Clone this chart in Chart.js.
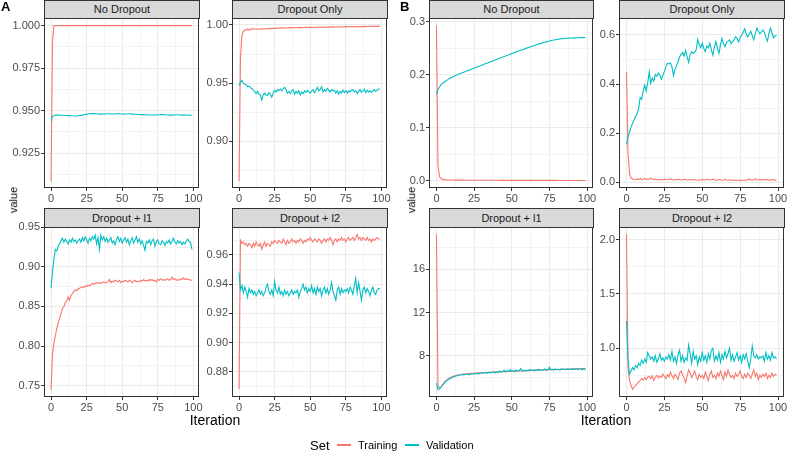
<!DOCTYPE html>
<html>
<head>
<meta charset="utf-8">
<script src="https://cdn.jsdelivr.net/npm/chart.js@4.4.1/dist/chart.umd.min.js"></script>
<style>
  body { margin: 0; background: #fff; font-family: "Liberation Sans", Arial, sans-serif; }
  #wrap { position: relative; width: 787px; height: 453px; overflow: hidden; }
  #wrap canvas, .strip, .txt, .key { position: absolute; }
  .strip { background: #d9d9d9; border: 1px solid #333; box-sizing: border-box; font-size: 11px; color: #1a1a1a; text-align: center; }
  .txt { white-space: nowrap; color: #000; }
</style>
</head>
<body>
<div id="wrap"></div>
<script>
// iterations (x values)
const iterations = [
  0,1,2,3,4,5,6,7,8,9, 10,11,12,13,14,15,16,17,18,19, 20,21,22,23,24,25,26,27,28,29,
  30,31,32,33,34,35,36,37,38,39, 40,41,42,43,44,45,46,47,48,49, 50,51,52,53,54,55,56,57,58,59,
  60,61,62,63,64,65,66,67,68,69, 70,71,72,73,74,75,76,77,78,79, 80,81,82,83,84,85,86,87,88,89,
  90,91,92,93,94,95,96,97,98,99
];

// A - No Dropout
const aNoDropTraining = [
  0.9083, 0.99, 1, 1, 1, 1, 1, 1, 1, 1,
  1, 1, 1, 1, 1, 1, 1, 1, 1, 1,
  1, 1, 1, 1, 1, 1, 1, 1, 1, 1,
  1, 1, 1, 1, 1, 1, 1, 1, 1, 1,
  1, 1, 1, 1, 1, 1, 1, 1, 1, 1,
  1, 1, 1, 1, 1, 1, 1, 1, 1, 1,
  1, 1, 1, 1, 1, 1, 1, 1, 1, 1,
  1, 1, 1, 1, 1, 1, 1, 1, 1, 1,
  1, 1, 1, 1, 1, 1, 1, 1, 1, 1,
  1, 1, 1, 1, 1, 1, 1, 1, 1, 1
];
const aNoDropValidation = [
  0.944, 0.9466, 0.947, 0.9472, 0.9473, 0.9473, 0.9473, 0.9472, 0.9472, 0.9472,
  0.9471, 0.9471, 0.947, 0.947, 0.9469, 0.9469, 0.9468, 0.9468, 0.9468, 0.9469,
  0.947, 0.9471, 0.9473, 0.9475, 0.9477, 0.9479, 0.948, 0.9481, 0.9482, 0.9482,
  0.9483, 0.9482, 0.9481, 0.948, 0.9479, 0.9479, 0.9479, 0.948, 0.948, 0.9481,
  0.9481, 0.9481, 0.948, 0.948, 0.948, 0.9481, 0.9481, 0.9482, 0.9481, 0.948,
  0.948, 0.9479, 0.948, 0.948, 0.9481, 0.9481, 0.948, 0.9479, 0.9479, 0.9478,
  0.9478, 0.9477, 0.9477, 0.9476, 0.9476, 0.9476, 0.9475, 0.9475, 0.9475, 0.9474,
  0.9474, 0.9474, 0.9474, 0.9474, 0.9474, 0.9475, 0.9475, 0.9476, 0.9476, 0.9475,
  0.9475, 0.9474, 0.9474, 0.9473, 0.9473, 0.9473, 0.9474, 0.9474, 0.9475, 0.9475,
  0.9474, 0.9474, 0.9473, 0.9473, 0.9473, 0.9474, 0.9474, 0.9473, 0.9472, 0.9472
];

// A - Dropout Only
const aDropOnlyTraining = [
  0.866, 0.972, 0.991, 0.9945, 0.9955, 0.996, 0.9962, 0.9958, 0.9964, 0.9961,
  0.997, 0.9966, 0.9963, 0.9967, 0.9964, 0.9968, 0.9965, 0.9969, 0.9966, 0.997,
  0.9968, 0.9971, 0.9969, 0.9972, 0.997, 0.9973, 0.9971, 0.9974, 0.9972, 0.9975,
  0.9973, 0.9975, 0.9974, 0.9976, 0.9974, 0.9977, 0.9975, 0.9977, 0.9976, 0.9978,
  0.9976, 0.9978, 0.9977, 0.9979, 0.9977, 0.9979, 0.9978, 0.998, 0.9978, 0.998,
  0.9979, 0.9981, 0.9979, 0.9981, 0.998, 0.9982, 0.998, 0.9982, 0.9981, 0.9983,
  0.9981, 0.9983, 0.9982, 0.9983, 0.9982, 0.9984, 0.9982, 0.9984, 0.9983, 0.9985,
  0.9983, 0.9985, 0.9984, 0.9985, 0.9984, 0.9986, 0.9984, 0.9986, 0.9985, 0.9986,
  0.9985, 0.9987, 0.9985, 0.9987, 0.9986, 0.9987, 0.9986, 0.9988, 0.9986, 0.9988,
  0.9987, 0.9988, 0.9987, 0.9989, 0.9987, 0.9989, 0.9988, 0.9989, 0.9988, 0.9992
];
const aDropOnlyValidation = [
  0.948, 0.951, 0.9525, 0.95, 0.949, 0.9485, 0.947, 0.9475, 0.946, 0.9455,
  0.944, 0.943, 0.941, 0.943, 0.9405, 0.94, 0.9355, 0.94, 0.9415, 0.94,
  0.9395, 0.942, 0.9405, 0.938, 0.9415, 0.944, 0.9425, 0.9445, 0.9435, 0.945,
  0.9435, 0.945, 0.9465, 0.9445, 0.9415, 0.943, 0.941, 0.9435, 0.9445, 0.9405,
  0.943, 0.9415, 0.9435, 0.94, 0.9425, 0.941, 0.9435, 0.942, 0.944, 0.9425,
  0.9415, 0.9435, 0.9445, 0.942, 0.944, 0.9465, 0.9435, 0.9445, 0.947, 0.9425,
  0.9445, 0.943, 0.9455, 0.944, 0.9425, 0.9445, 0.9435, 0.944, 0.9415, 0.9435,
  0.9405, 0.943, 0.9415, 0.944, 0.942, 0.9435, 0.9415, 0.9435, 0.9425, 0.944,
  0.9445, 0.9425, 0.9435, 0.941, 0.943, 0.9445, 0.942, 0.9435, 0.945, 0.942,
  0.944, 0.9425, 0.9435, 0.942, 0.9435, 0.9445, 0.943, 0.944, 0.945, 0.945
];

// A - Dropout + l1
const aL1Training = [
  0.745, 0.790, 0.803, 0.813, 0.822, 0.829, 0.835, 0.841, 0.847, 0.850,
  0.855, 0.857, 0.862, 0.858, 0.864, 0.866, 0.869, 0.871, 0.870, 0.872,
  0.873, 0.874, 0.875, 0.874, 0.876, 0.875, 0.877, 0.876, 0.877, 0.879,
  0.878, 0.879, 0.880, 0.879, 0.880, 0.879, 0.880, 0.881, 0.880, 0.880,
  0.881, 0.884, 0.880, 0.882, 0.881, 0.883, 0.882, 0.881, 0.883, 0.880,
  0.882, 0.881, 0.883, 0.882, 0.881, 0.883, 0.882, 0.880, 0.882, 0.883,
  0.881, 0.882, 0.881, 0.883, 0.882, 0.884, 0.882, 0.883, 0.882, 0.884,
  0.883, 0.884, 0.882, 0.883, 0.881, 0.884, 0.883, 0.885, 0.883, 0.884,
  0.883, 0.884, 0.885, 0.883, 0.884, 0.887, 0.884, 0.885, 0.883, 0.884,
  0.883, 0.885, 0.884, 0.886, 0.884, 0.885, 0.884, 0.884, 0.883, 0.883
];
const aL1Validation = [
  0.873, 0.893, 0.910, 0.922, 0.920, 0.926, 0.929, 0.933, 0.936, 0.931,
  0.935, 0.932, 0.929, 0.934, 0.931, 0.936, 0.932, 0.934, 0.930, 0.933,
  0.935, 0.931, 0.937, 0.933, 0.938, 0.934, 0.930, 0.936, 0.933, 0.938,
  0.935, 0.940, 0.929, 0.937, 0.922, 0.940, 0.934, 0.938, 0.932, 0.936,
  0.931, 0.934, 0.937, 0.930, 0.933, 0.928, 0.935, 0.938, 0.932, 0.936,
  0.930, 0.934, 0.937, 0.931, 0.935, 0.928, 0.933, 0.937, 0.930, 0.934,
  0.938, 0.931, 0.935, 0.929, 0.933, 0.927, 0.921, 0.932, 0.930, 0.934,
  0.928, 0.933, 0.935, 0.926, 0.932, 0.934, 0.929, 0.928, 0.933, 0.931,
  0.927, 0.932, 0.930, 0.934, 0.929, 0.932, 0.936, 0.931, 0.929, 0.933,
  0.930, 0.932, 0.928, 0.931, 0.929, 0.933, 0.935, 0.932, 0.931, 0.922
];

// A - Dropout + l2
const aL2Training = [
  0.868, 0.970, 0.968, 0.969, 0.967, 0.968, 0.966, 0.968, 0.967, 0.965,
  0.968, 0.966, 0.969, 0.967, 0.966, 0.968, 0.964, 0.967, 0.969, 0.966,
  0.968, 0.967, 0.966, 0.969, 0.968, 0.970, 0.969, 0.968, 0.970, 0.969,
  0.968, 0.971, 0.969, 0.967, 0.970, 0.968, 0.969, 0.971, 0.969, 0.970,
  0.968, 0.970, 0.969, 0.971, 0.970, 0.968, 0.970, 0.969, 0.971, 0.970,
  0.972, 0.970, 0.969, 0.971, 0.970, 0.969, 0.971, 0.970, 0.968, 0.970,
  0.971, 0.969, 0.971, 0.970, 0.972, 0.970, 0.967, 0.970, 0.971, 0.969,
  0.971, 0.970, 0.972, 0.970, 0.971, 0.969, 0.971, 0.972, 0.970, 0.971,
  0.972, 0.970, 0.972, 0.974, 0.971, 0.972, 0.970, 0.972, 0.971, 0.970,
  0.972, 0.970, 0.971, 0.969, 0.971, 0.970, 0.971, 0.972, 0.971, 0.971
];
const aL2Validation = [
  0.948, 0.936, 0.939, 0.934, 0.938, 0.935, 0.931, 0.937, 0.934, 0.936,
  0.933, 0.935, 0.932, 0.934, 0.936, 0.933, 0.935, 0.932, 0.934, 0.938,
  0.940, 0.935, 0.933, 0.936, 0.932, 0.942, 0.936, 0.934, 0.938, 0.933,
  0.935, 0.932, 0.936, 0.933, 0.935, 0.932, 0.934, 0.936, 0.933, 0.935,
  0.934, 0.936, 0.931, 0.935, 0.937, 0.940, 0.936, 0.938, 0.934, 0.937,
  0.935, 0.939, 0.934, 0.937, 0.933, 0.938, 0.935, 0.937, 0.932, 0.936,
  0.938, 0.934, 0.937, 0.933, 0.936, 0.941, 0.935, 0.932, 0.929, 0.936,
  0.938, 0.933, 0.937, 0.934, 0.936, 0.935, 0.937, 0.934, 0.938, 0.936,
  0.933, 0.939, 0.944, 0.934, 0.941, 0.935, 0.929, 0.936, 0.938, 0.934,
  0.937, 0.935, 0.932, 0.936, 0.938, 0.934, 0.933, 0.936, 0.937, 0.937
];

// B - No Dropout
const bNoDropTraining = [
  0.293, 0.03, 0.008, 0.004, 0.0025, 0.002, 0.0017, 0.0015, 0.0014, 0.0013,
  0.0012, 0.0012, 0.0011, 0.0011, 0.0011, 0.001, 0.001, 0.001, 0.001, 0.0009,
  0.0009, 0.0009, 0.0009, 0.0009, 0.0009, 0.0009, 0.0009, 0.0009, 0.0009, 0.0009,
  0.0008, 0.0008, 0.0008, 0.0008, 0.0008, 0.0008, 0.0008, 0.0008, 0.0008, 0.0008,
  0.0008, 0.0008, 0.0007, 0.0007, 0.0007, 0.0007, 0.0007, 0.0007, 0.0007, 0.0007,
  0.0007, 0.0007, 0.0007, 0.0007, 0.0007, 0.0007, 0.0007, 0.0007, 0.0007, 0.0007,
  0.0006, 0.0006, 0.0006, 0.0006, 0.0006, 0.0006, 0.0006, 0.0006, 0.0006, 0.0006,
  0.0006, 0.0006, 0.0006, 0.0006, 0.0006, 0.0006, 0.0006, 0.0006, 0.0006, 0.0006,
  0.0005, 0.0005, 0.0005, 0.0005, 0.0005, 0.0005, 0.0005, 0.0005, 0.0005, 0.0005,
  0.0005, 0.0005, 0.0005, 0.0005, 0.0005, 0.0005, 0.0005, 0.0004, 0.0004, 0.0004
];
const bNoDropValidation = [
  0.163, 0.172, 0.177, 0.181, 0.184, 0.186, 0.188, 0.190, 0.192, 0.1935,
  0.195, 0.1965, 0.198, 0.1992, 0.2004, 0.2016, 0.2028, 0.2039, 0.205, 0.2061,
  0.2072, 0.2083, 0.2094, 0.2105, 0.2116, 0.2127, 0.2138, 0.2149, 0.216, 0.2171,
  0.2182, 0.2193, 0.2204, 0.2215, 0.2226, 0.2237, 0.2248, 0.2259, 0.227, 0.2281,
  0.2292, 0.2303, 0.2314, 0.2325, 0.2336, 0.2347, 0.2358, 0.2369, 0.238, 0.2391,
  0.2402, 0.2413, 0.2424, 0.2435, 0.2446, 0.2456, 0.2466, 0.2476, 0.2486, 0.2496,
  0.2506, 0.2516, 0.2526, 0.2536, 0.2546, 0.2555, 0.2564, 0.2573, 0.2582, 0.2591,
  0.26, 0.2608, 0.2616, 0.2624, 0.2632, 0.2639, 0.2646, 0.2653, 0.2659, 0.2665,
  0.267, 0.2675, 0.2679, 0.2683, 0.2686, 0.2689, 0.2691, 0.2693, 0.2695, 0.2697,
  0.2698, 0.2699, 0.27, 0.2701, 0.2702, 0.2703, 0.2704, 0.2705, 0.2706, 0.2707
];

// B - Dropout Only
const bDropOnlyTraining = [
  0.45, 0.12, 0.035, 0.018, 0.014, 0.012, 0.011, 0.014, 0.012, 0.015,
  0.011, 0.013, 0.016, 0.012, 0.014, 0.013, 0.017, 0.014, 0.012, 0.013,
  0.011, 0.012, 0.01, 0.012, 0.011, 0.013, 0.012, 0.011, 0.013, 0.015,
  0.012, 0.01, 0.012, 0.011, 0.013, 0.012, 0.01, 0.011, 0.013, 0.012,
  0.009, 0.011, 0.012, 0.01, 0.011, 0.012, 0.01, 0.009, 0.011, 0.01,
  0.012, 0.009, 0.011, 0.013, 0.012, 0.01, 0.011, 0.013, 0.011, 0.009,
  0.01, 0.012, 0.011, 0.009, 0.01, 0.012, 0.01, 0.009, 0.011, 0.01,
  0.008, 0.009, 0.01, 0.009, 0.008, 0.009, 0.008, 0.009, 0.01, 0.009,
  0.011, 0.013, 0.011, 0.009, 0.012, 0.014, 0.011, 0.01, 0.012, 0.009,
  0.011, 0.012, 0.01, 0.012, 0.009, 0.011, 0.01, 0.012, 0.009, 0.007
];
const bDropOnlyValidation = [
  0.155, 0.185, 0.205, 0.226, 0.24, 0.255, 0.268, 0.28, 0.30, 0.345,
  0.338, 0.37, 0.396, 0.372, 0.405, 0.45, 0.403, 0.425, 0.412, 0.44,
  0.432, 0.445, 0.438, 0.42, 0.435, 0.452, 0.47, 0.485, 0.482, 0.486,
  0.47, 0.435, 0.46, 0.475, 0.49, 0.51, 0.52, 0.528, 0.515, 0.538,
  0.512, 0.488, 0.52, 0.532, 0.525, 0.53, 0.54, 0.582, 0.56, 0.548,
  0.566, 0.545, 0.532, 0.555, 0.548, 0.566, 0.54, 0.518, 0.55, 0.573,
  0.545, 0.525, 0.56, 0.586, 0.565, 0.552, 0.57, 0.575, 0.58, 0.565,
  0.573, 0.58, 0.593, 0.585, 0.572, 0.588, 0.6, 0.61, 0.625, 0.605,
  0.593, 0.605, 0.615, 0.598, 0.58, 0.605, 0.628, 0.615, 0.605, 0.612,
  0.62, 0.61, 0.59, 0.575, 0.605, 0.628, 0.61, 0.588, 0.595, 0.6
];

// B - Dropout + l1
const bL1Training = [
  19.2, 5.3, 5.05, 5.15, 5.35, 5.55, 5.7, 5.82, 5.92, 6.0,
  6.06, 6.12, 6.16, 6.2, 6.24, 6.27, 6.29, 6.31, 6.33, 6.34,
  6.36, 6.35, 6.38, 6.4, 6.39, 6.42, 6.41, 6.44, 6.43, 6.46,
  6.45, 6.47, 6.46, 6.49, 6.48, 6.5, 6.49, 6.52, 6.5, 6.53,
  6.52, 6.55, 6.53, 6.56, 6.55, 6.58, 6.56, 6.59, 6.57, 6.6,
  6.58, 6.61, 6.6, 6.62, 6.6, 6.63, 6.62, 6.65, 6.63, 6.66,
  6.64, 6.67, 6.65, 6.68, 6.67, 6.69, 6.68, 6.7, 6.69, 6.71,
  6.7, 6.72, 6.71, 6.73, 6.72, 6.74, 6.73, 6.75, 6.74, 6.76,
  6.75, 6.77, 6.76, 6.78, 6.77, 6.79, 6.78, 6.8, 6.79, 6.81,
  6.8, 6.82, 6.81, 6.83, 6.82, 6.84, 6.83, 6.85, 6.84, 6.86
];
const bL1Validation = [
  5.5, 4.9, 4.95, 5.1, 5.3, 5.45, 5.6, 5.72, 5.84, 5.92,
  6.0, 6.05, 6.12, 6.15, 6.2, 6.22, 6.26, 6.24, 6.3, 6.27,
  6.33, 6.3, 6.28, 6.36, 6.32, 6.38, 6.35, 6.42, 6.33, 6.45,
  6.39, 6.47, 6.41, 6.5, 6.38, 6.52, 6.44, 6.49, 6.55, 6.42,
  6.56, 6.48, 6.62, 6.5, 6.58, 6.71, 6.52, 6.66, 6.55, 6.74,
  6.58, 6.63, 6.55, 6.7, 6.6, 6.67, 6.84, 6.62, 6.7, 6.58,
  6.69, 6.63, 6.75, 6.66, 6.72, 6.61, 6.74, 6.68, 6.78, 6.65,
  6.73, 6.7, 6.8, 6.67, 6.76, 6.95, 6.72, 6.78, 6.69, 6.8,
  6.72, 6.77, 6.7, 6.82, 6.74, 6.79, 6.71, 6.83, 6.75, 6.8,
  6.73, 6.85, 6.76, 6.81, 6.74, 6.86, 6.78, 6.72, 6.84, 6.7
];

// B - Dropout + l2
const bL2Training = [
  2.05, 0.82, 0.7, 0.66, 0.62, 0.64, 0.655, 0.67, 0.69, 0.7,
  0.72, 0.705, 0.73, 0.71, 0.735, 0.74, 0.72, 0.745, 0.7, 0.735,
  0.75, 0.725, 0.745, 0.73, 0.76, 0.74, 0.72, 0.755, 0.735, 0.78,
  0.745, 0.72, 0.76, 0.74, 0.71, 0.77, 0.79, 0.75, 0.73, 0.68,
  0.74, 0.8, 0.77, 0.73, 0.76, 0.79, 0.74, 0.71, 0.76, 0.73,
  0.75, 0.72, 0.78, 0.74, 0.7, 0.76, 0.79, 0.73, 0.75, 0.72,
  0.77, 0.74, 0.79, 0.75, 0.71, 0.78, 0.74, 0.8, 0.76, 0.73,
  0.75, 0.72, 0.77, 0.74, 0.76, 0.79, 0.74, 0.72, 0.76, 0.73,
  0.77, 0.75, 0.72, 0.76, 0.8, 0.74, 0.77, 0.71, 0.75, 0.73,
  0.76, 0.74, 0.77, 0.72, 0.75, 0.73, 0.77, 0.74, 0.76, 0.75
];
const bL2Validation = [
  1.25, 0.9, 0.76, 0.79, 0.82, 0.8, 0.84, 0.82, 0.86, 0.84,
  0.89, 0.86, 0.9, 0.87, 0.96, 0.93, 0.9, 0.92, 0.88, 0.93,
  0.87, 0.9, 0.95, 0.89, 0.91, 0.88, 0.92, 0.9, 0.94, 0.89,
  0.97, 0.88, 0.92, 0.86, 0.94, 0.98, 0.88, 0.93, 0.87, 0.91,
  0.89, 1.03, 0.95, 0.86, 0.97, 0.9, 0.93, 0.85, 0.92, 0.88,
  0.96, 0.89, 0.93, 0.87, 0.95, 0.9, 0.98, 1.0, 0.88, 0.93,
  0.89, 0.96, 0.87, 0.94, 0.9, 0.97, 0.91, 0.95, 1.0, 0.89,
  0.94, 0.88, 0.92, 0.96, 0.89, 0.93, 0.87, 0.94, 0.9, 0.95,
  0.88, 0.82, 0.9, 1.02, 0.93, 0.91, 0.94, 0.9, 0.92, 0.91,
  0.93, 0.88, 0.96, 0.9, 0.93, 0.89, 0.96, 0.91, 0.92, 0.9
];

// axis ticks and labels
const xTicks = [0, 25, 50, 75, 100];
const xTickLabels = ['0', '25', '50', '75', '100'];
const xRange = [-4.95, 103.95];

const aNoDropTicks = [0.925, 0.95, 0.975, 1];
const aNoDropLabels = ['0.925', '0.950', '0.975', '1.000'];
const aDropOnlyTicks = [0.9, 0.95, 1];
const aDropOnlyLabels = ['0.90', '0.95', '1.00'];
const aL1Ticks = [0.75, 0.8, 0.85, 0.9, 0.95];
const aL1Labels = ['0.75', '0.80', '0.85', '0.90', '0.95'];
const aL2Ticks = [0.88, 0.9, 0.92, 0.94, 0.96];
const aL2Labels = ['0.88', '0.90', '0.92', '0.94', '0.96'];
const bNoDropTicks = [0, 0.1, 0.2, 0.3];
const bNoDropLabels = ['0.0', '0.1', '0.2', '0.3'];
const bDropOnlyTicks = [0, 0.2, 0.4, 0.6];
const bDropOnlyLabels = ['0.0', '0.2', '0.4', '0.6'];
const bL1Ticks = [8, 12, 16];
const bL1Labels = ['8', '12', '16'];
const bL2Ticks = [1, 1.5, 2];
const bL2Labels = ['1.0', '1.5', '2.0'];

const seriesNames = ['Training', 'Validation'];
const seriesColors = ['#F8766D', '#00BFC4'];

// panel geometry (plot area edges in page pixels)
const cols = [[44, 199], [232, 387], [429, 593], [619, 784]];
const rows = [[18, 188], [227, 397]];
const labelW = 40, padTop = 12, padRight = 14, axisH = 20;

const panels = [
  { title: 'No Dropout', col: 0, row: 0, train: aNoDropTraining, valid: aNoDropValidation, yr: [0.9044, 1.0045], ticks: aNoDropTicks, labels: aNoDropLabels },
  { title: 'Dropout Only', col: 1, row: 0, train: aDropOnlyTraining, valid: aDropOnlyValidation, yr: [0.860, 1.006], ticks: aDropOnlyTicks, labels: aDropOnlyLabels },
  { title: 'Dropout + l1', col: 0, row: 1, train: aL1Training, valid: aL1Validation, yr: [0.7357, 0.9503], ticks: aL1Ticks, labels: aL1Labels },
  { title: 'Dropout + l2', col: 1, row: 1, train: aL2Training, valid: aL2Validation, yr: [0.8626, 0.9792], ticks: aL2Ticks, labels: aL2Labels },
  { title: 'No Dropout', col: 2, row: 0, train: bNoDropTraining, valid: bNoDropValidation, yr: [-0.0138, 0.3075], ticks: bNoDropTicks, labels: bNoDropLabels },
  { title: 'Dropout Only', col: 3, row: 0, train: bDropOnlyTraining, valid: bDropOnlyValidation, yr: [-0.0228, 0.669], ticks: bDropOnlyTicks, labels: bDropOnlyLabels },
  { title: 'Dropout + l1', col: 2, row: 1, train: bL1Training, valid: bL1Validation, yr: [4.22, 19.87], ticks: bL1Ticks, labels: bL1Labels },
  { title: 'Dropout + l2', col: 3, row: 1, train: bL2Training, valid: bL2Validation, yr: [0.550, 2.117], ticks: bL2Ticks, labels: bL2Labels }
];

Chart.defaults.font.family = '"Liberation Sans", Arial, sans-serif';
Chart.defaults.font.size = 11;

const panelBorder = {
  id: 'panelBorder',
  afterDraw(chart) {
    const a = chart.chartArea, c = chart.ctx;
    c.save();
    c.strokeStyle = '#333333';
    c.lineWidth = 1;
    c.strokeRect(a.left + 0.5, a.top + 0.5, a.right - a.left - 1, a.bottom - a.top - 1);
    c.restore();
  }
};

// major ticks plus ggplot-style minor breaks halfway between
function tickSetter(major, range) {
  return function(scale) {
    const step = major[1] - major[0];
    const list = [];
    for (let i = -1; i < major.length; i++) {
      const m = major[0] + step * (i + 0.5);
      if (m > range[0] && m < range[1]) list.push({ value: m, minor: true });
    }
    major.forEach(v => list.push({ value: v }));
    list.sort((p, q) => p.value - q.value);
    scale.ticks = list;
  };
}

function labelFor(major, names) {
  return function(value, index, ticks) {
    if (ticks[index] && ticks[index].minor) return '';
    const k = major.findIndex(v => Math.abs(v - value) < 1e-9);
    return k < 0 ? '' : names[k];
  };
}

const gridOpts = {
  color: c => (c.tick && c.tick.minor) ? '#f3f3f3' : '#ebebeb',
  lineWidth: 1,
  tickLength: 3,
  tickWidth: 1,
  tickColor: c => (c.tick && c.tick.minor) ? 'rgba(0,0,0,0)' : '#333333'
};

const wrap = document.getElementById('wrap');

function makePanel(p) {
  const [L, R] = cols[p.col];
  const [T, B] = rows[p.row];
  const w = labelW + (R - L) + padRight;
  const h = padTop + (B - T) + axisH;

  const canvas = document.createElement('canvas');
  canvas.width = w; canvas.height = h;
  canvas.style.left = (L - labelW) + 'px';
  canvas.style.top = (T - padTop) + 'px';
  canvas.style.width = w + 'px';
  canvas.style.height = h + 'px';
  wrap.appendChild(canvas);

  new Chart(canvas, {
    type: 'line',
    data: {
      labels: iterations,
      datasets: [
        { label: seriesNames[0], data: p.train, borderColor: seriesColors[0], backgroundColor: seriesColors[0], order: 1 },
        { label: seriesNames[1], data: p.valid, borderColor: seriesColors[1], backgroundColor: seriesColors[1], order: 0 }
      ]
    },
    options: {
      responsive: false,
      animation: false,
      devicePixelRatio: 1,
      layout: { padding: { top: padTop, right: padRight, left: 0, bottom: 0 } },
      elements: {
        point: { radius: 0 },
        line: { borderWidth: 1.1, tension: 0 }
      },
      plugins: { legend: { display: false }, tooltip: { enabled: false } },
      scales: {
        x: {
          type: 'linear',
          min: xRange[0], max: xRange[1],
          afterBuildTicks: tickSetter(xTicks, xRange),
          afterFit: s => { s.height = axisH; },
          grid: gridOpts,
          border: { display: false },
          ticks: { autoSkip: false, maxRotation: 0, padding: 1, color: '#4d4d4d', callback: labelFor(xTicks, xTickLabels) }
        },
        y: {
          type: 'linear',
          min: p.yr[0], max: p.yr[1],
          afterBuildTicks: tickSetter(p.ticks, p.yr),
          afterFit: s => { s.width = labelW; },
          grid: gridOpts,
          border: { display: false },
          ticks: { autoSkip: false, padding: 1, color: '#4d4d4d', callback: labelFor(p.ticks, p.labels) }
        }
      }
    },
    plugins: [panelBorder]
  });
}

panels.forEach(makePanel);

// facet strips
panels.forEach(p => {
  const [L, R] = cols[p.col];
  const top = p.row === 0 ? 0 : 208;
  const d = document.createElement('div');
  d.className = 'strip';
  d.textContent = p.title;
  d.style.left = L + 'px';
  d.style.top = top + 'px';
  d.style.width = (R - L + 1) + 'px';
  d.style.height = (rows[p.row][0] - top + 1) + 'px';
  d.style.lineHeight = (rows[p.row][0] - top - 1) + 'px';
  wrap.appendChild(d);
});

function addText(str, x, y, css, anchor) {
  const d = document.createElement('div');
  d.className = 'txt';
  d.textContent = str;
  Object.assign(d.style, css);
  wrap.appendChild(d);
  const r = d.getBoundingClientRect();
  const lx = anchor === 'left' ? x : x - r.width / 2;
  d.style.left = lx + 'px';
  d.style.top = (y - r.height / 2) + 'px';
  return d;
}

// panel tags
addText('A', 1, 6, { fontSize: '13px', fontWeight: 'bold' }, 'left');
addText('B', 400, 6, { fontSize: '13px', fontWeight: 'bold' }, 'left');

// axis titles
addText('Iteration', 215, 420, { fontSize: '14px' });
addText('Iteration', 606, 420, { fontSize: '14px' });
addText('value', 6, 207, { fontSize: '11px', transform: 'rotate(-90deg)' });
addText('value', 404, 207, { fontSize: '11px', transform: 'rotate(-90deg)' });

// legend
addText('Set', 310, 445, { fontSize: '13px' }, 'left');
addText(seriesNames[0], 358, 445, { fontSize: '11px' }, 'left');
addText(seriesNames[1], 426, 445, { fontSize: '11px' }, 'left');
[[337, seriesColors[0]], [405, seriesColors[1]]].forEach(([x, col]) => {
  const k = document.createElement('div');
  k.className = 'key';
  k.style.left = x + 'px';
  k.style.top = '444px';
  k.style.width = '14px';
  k.style.height = '1.5px';
  k.style.background = col;
  wrap.appendChild(k);
});
</script>
</body>
</html>
